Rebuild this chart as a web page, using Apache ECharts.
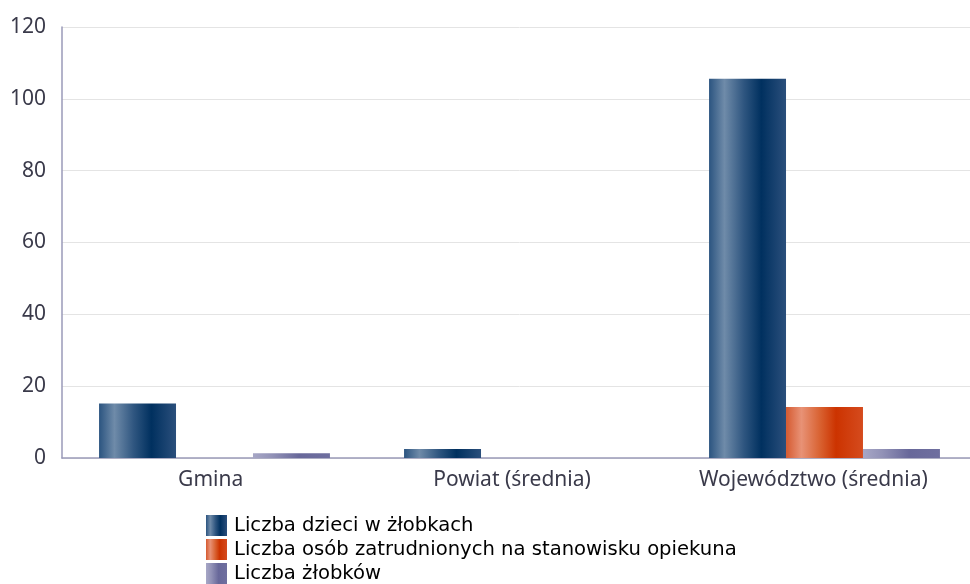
<!DOCTYPE html>
<html><head><meta charset="utf-8">
<script src="https://cdn.jsdelivr.net/npm/echarts@6/dist/echarts.min.js"></script>
<style>html,body{margin:0;padding:0;background:#fff;overflow:hidden}#c{width:977px;height:584px}</style>
</head><body><div id="c"></div>
<script>
const categories = ['Gmina', 'Powiat (średnia)', 'Województwo (średnia)'];
const seriesNames = ['Liczba dzieci w żłobkach', 'Liczba osób zatrudnionych na stanowisku opiekuna', 'Liczba żłobków'];
const dzieci = [15.2, 2.5, 105.6];
const osoby = [0, 0, 14.2];
const zlobki = [1.3, 0, 2.5];
const yTicks = [0, 20, 40, 60, 80, 100, 120];

function grad(stops) {
  return new echarts.graphic.LinearGradient(0, 0, 1, 0, stops.map(s => ({offset: s[0], color: s[1]})));
}
const blue = grad([[0,'#2b5480'],[0.2,'#6f8ba9'],[0.45,'#2f5680'],[0.68,'#00305f'],[1,'#2b4f7c']]);
const orange = grad([[0,'#d55a30'],[0.2,'#e89276'],[0.45,'#d8602f'],[0.65,'#cc3300'],[1,'#d54b1e']]);
const purple = grad([[0,'#a7a7c6'],[0.25,'#9292b7'],[0.6,'#68689a'],[1,'#6f6f9f']]);

const font = 'Noto Sans';
const chart = echarts.init(document.getElementById('c'));
chart.setOption({
  animation: false,
  textStyle: {fontFamily: font},
  grid: [
    {left: 62, right: 0, top: 27, bottom: 126},
    {left: 60, right: 13, top: 27, bottom: 126}
  ],
  legend: {
    orient: 'vertical', left: 206, top: 515, height: 80, padding: 0,
    icon: 'rect',
    itemWidth: 21, itemHeight: 21, itemGap: 3,
    textStyle: {fontSize: 19.6, color: '#000', fontFamily: 'DejaVu Sans', lineHeight: 21, padding: [0, 0, 0, 2]},
    data: seriesNames
  },
  xAxis: [{
    type: 'category', data: categories, gridIndex: 0,
    axisLine: {lineStyle: {color: '#9a9ab8', width: 1.5}},
    axisTick: {show: false},
    axisLabel: {show: false}
  }, {
    type: 'category', data: categories, gridIndex: 1,
    axisLine: {show: false},
    axisTick: {show: false},
    axisLabel: {fontSize: 21, color: '#3a3a4a', margin: 12}
  }],
  yAxis: [{
    type: 'value', min: 0, max: 120, interval: 20, gridIndex: 0,
    axisLine: {show: true, lineStyle: {color: '#9a9ab8', width: 1.5}},
    axisTick: {show: false},
    splitLine: {lineStyle: {color: '#e4e4e4'}},
    axisLabel: {fontSize: 21, color: '#3a3a4a', margin: 16,
      formatter: v => yTicks.includes(v) ? String(v) : ''}
  }, {
    type: 'value', min: 0, max: 120, interval: 20, gridIndex: 1, show: false
  }],
  series: [
    {name: seriesNames[0], type: 'bar', data: dzieci, barGap: '0%', barCategoryGap: '24.3%', itemStyle: {color: blue}},
    {name: seriesNames[1], type: 'bar', data: osoby, barGap: '0%', barCategoryGap: '24.3%', itemStyle: {color: orange}},
    {name: seriesNames[2], type: 'bar', data: zlobki, barGap: '0%', barCategoryGap: '24.3%', itemStyle: {color: purple}}
  ]
});
</script></body></html>
